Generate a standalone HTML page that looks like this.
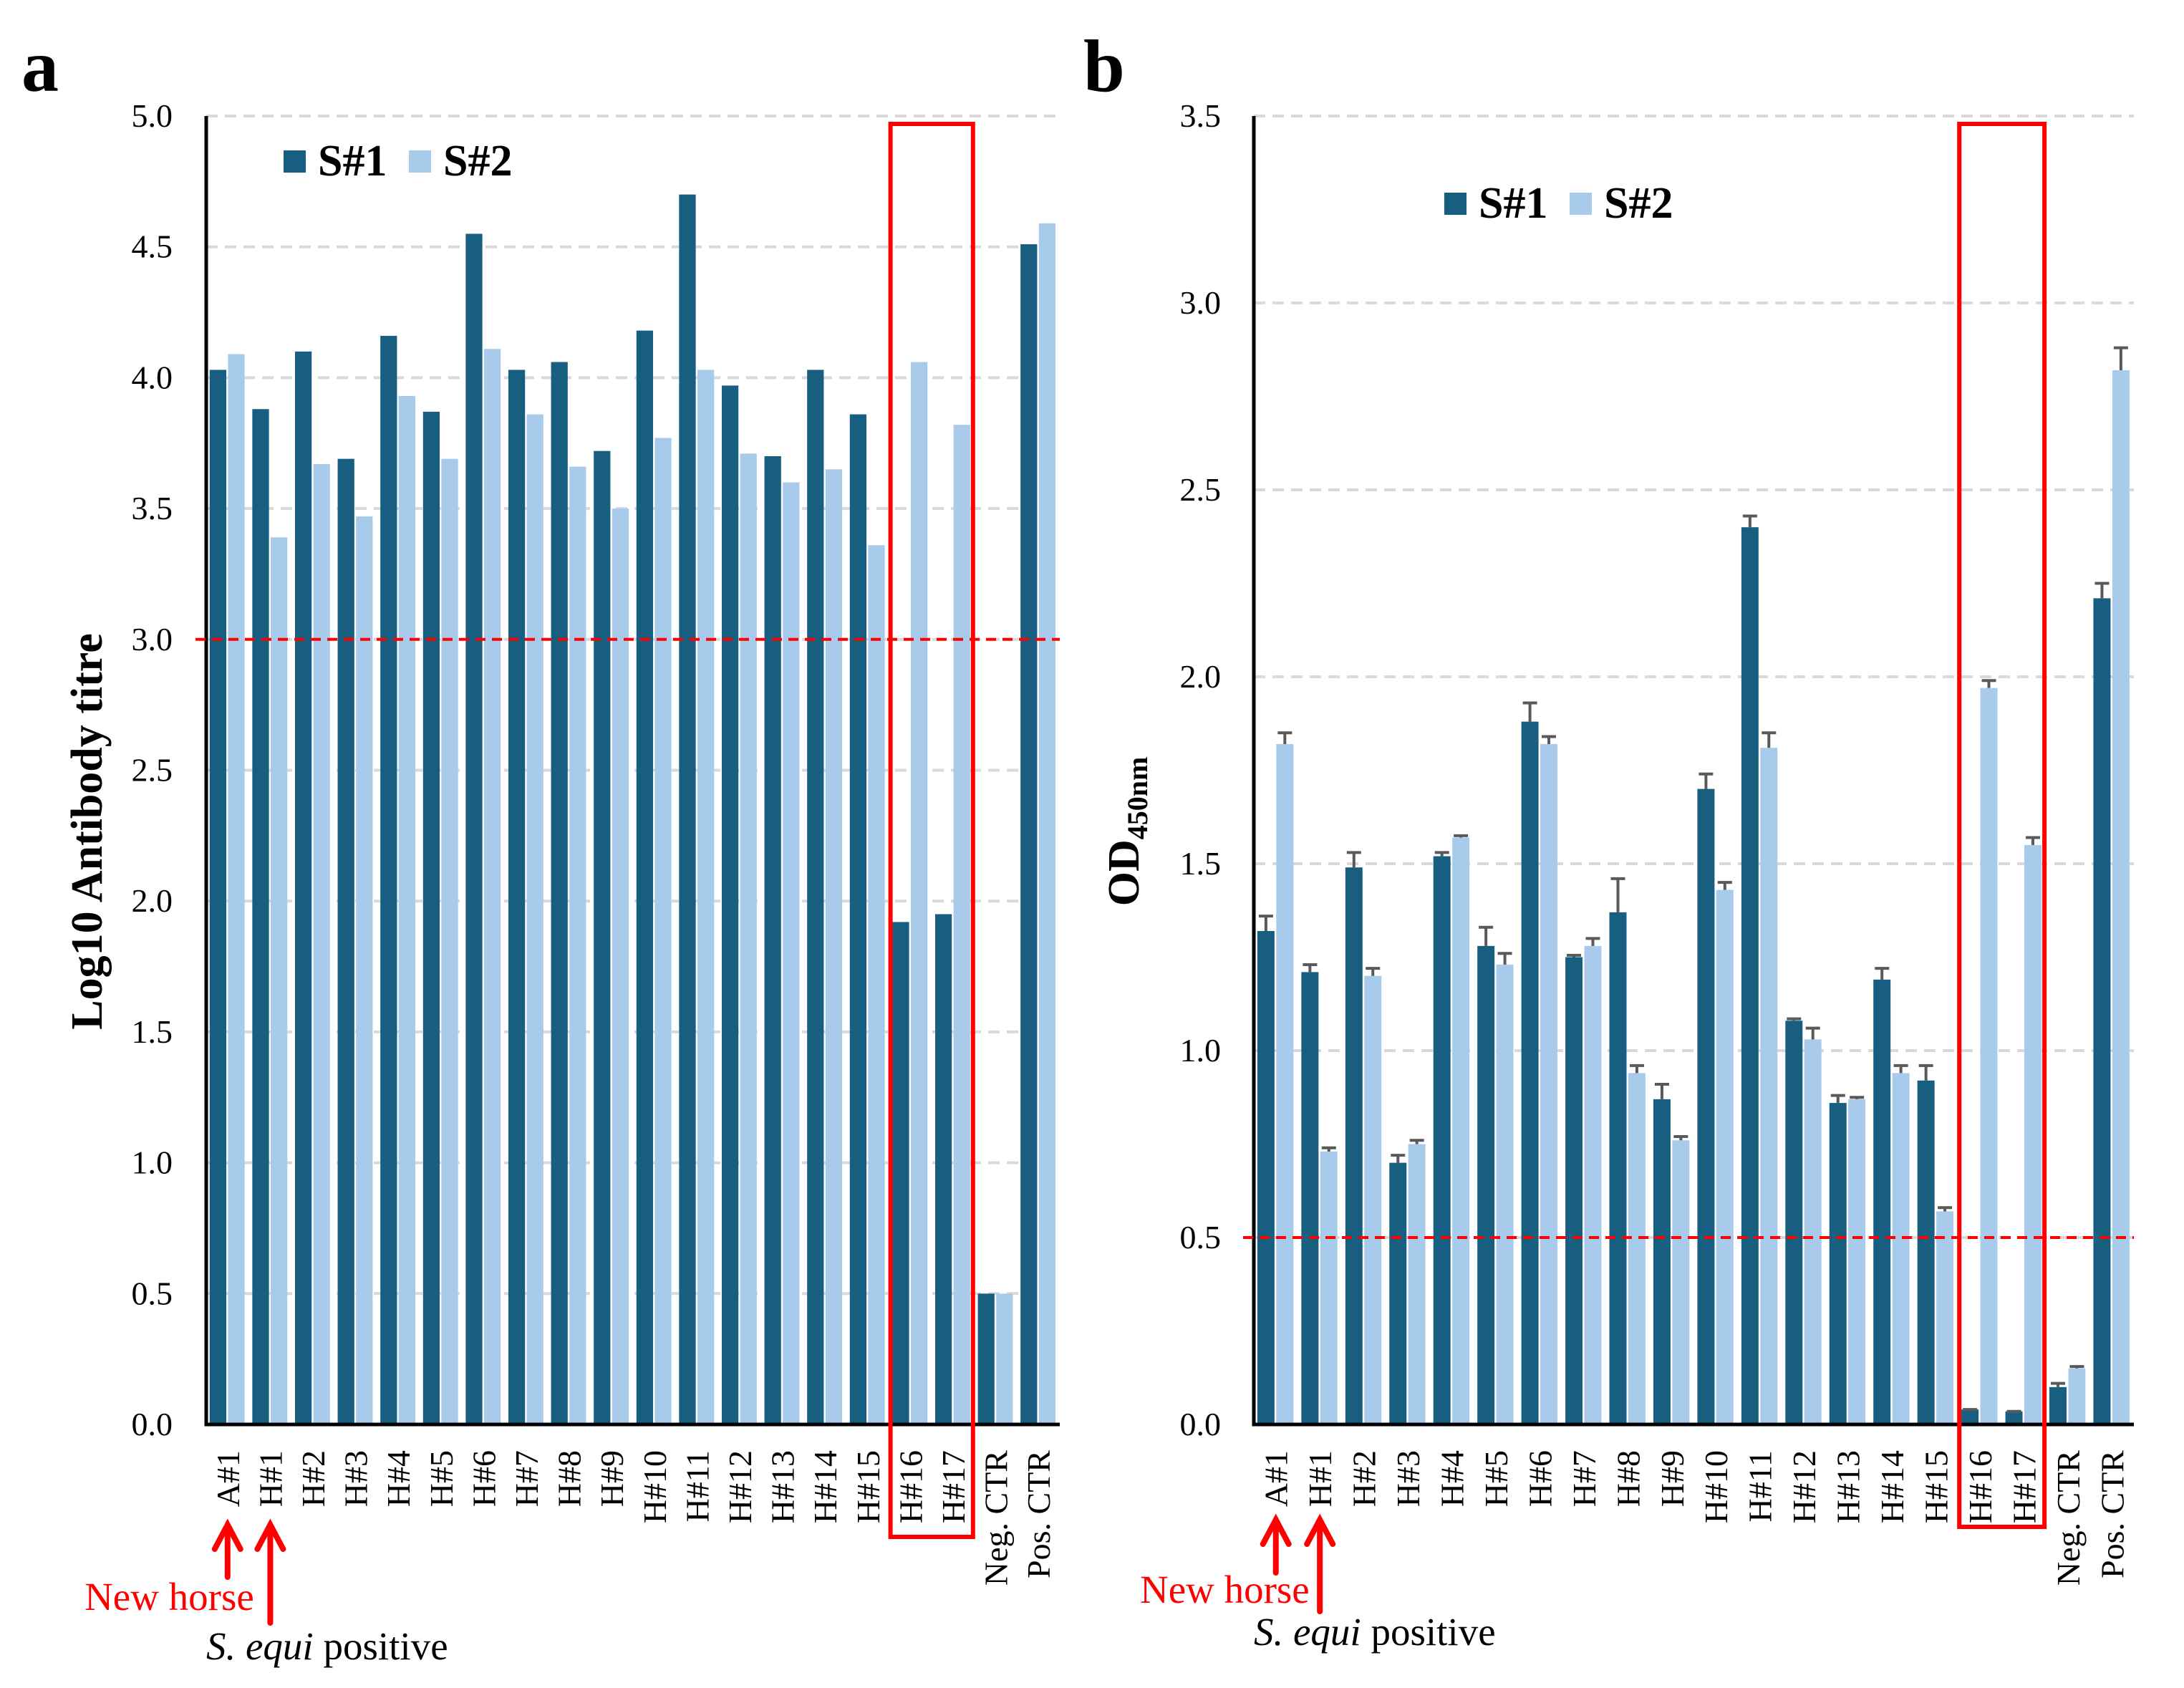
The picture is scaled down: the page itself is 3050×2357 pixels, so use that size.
<!DOCTYPE html>
<html><head><meta charset="utf-8"><style>
html,body{margin:0;padding:0;background:#fff;}
svg{display:block;font-family:"Liberation Serif",serif;}
</style></head><body>
<svg id="fig" width="3050" height="2357" viewBox="0 0 3050 2357" xmlns="http://www.w3.org/2000/svg">
<g id="pa"></g>
<g id="pb"></g>
</svg>
<script>
const categories = ["A#1","H#1","H#2","H#3","H#4","H#5","H#6","H#7","H#8","H#9","H#10","H#11","H#12","H#13","H#14","H#15","H#16","H#17","Neg. CTR","Pos. CTR"];
const titreS1 = [4.03,3.88,4.10,3.69,4.16,3.87,4.55,4.03,4.06,3.72,4.18,4.70,3.97,3.70,4.03,3.86,1.92,1.95,0.50,4.51];
const titreS2 = [4.09,3.39,3.67,3.47,3.93,3.69,4.11,3.86,3.66,3.50,3.77,4.03,3.71,3.60,3.65,3.36,4.06,3.82,0.50,4.59];
const odS1 = [1.32,1.21,1.49,0.70,1.52,1.28,1.88,1.25,1.37,0.87,1.70,2.40,1.08,0.86,1.19,0.92,0.04,0.035,0.10,2.21];
const odS1Err = [0.04,0.02,0.04,0.02,0.01,0.05,0.05,0.005,0.09,0.04,0.04,0.03,0.005,0.02,0.03,0.04,0,0,0.01,0.04];
const odS2 = [1.82,0.73,1.20,0.75,1.57,1.23,1.82,1.28,0.94,0.76,1.43,1.81,1.03,0.87,0.94,0.57,1.97,1.55,0.15,2.82];
const odS2Err = [0.03,0.01,0.02,0.01,0.005,0.03,0.02,0.02,0.02,0.01,0.02,0.04,0.03,0.005,0.02,0.01,0.02,0.02,0.005,0.06];
const ticksA = ["0.0","0.5","1.0","1.5","2.0","2.5","3.0","3.5","4.0","4.5","5.0"];
const ticksB = ["0.0","0.5","1.0","1.5","2.0","2.5","3.0","3.5"];
const cutoffA = 3.0, cutoffB = 0.5;

const NS="http://www.w3.org/2000/svg";
const DARK="#175e81", LIGHT="#a9cbeb";
function mk(parent,tag,attrs,text){const e=document.createElementNS(NS,tag);for(const k in attrs)e.setAttribute(k,attrs[k]);if(text!==undefined)e.textContent=text;parent.appendChild(e);return e;}

function panel(g,cfg){
  const x0=cfg.x0,x1=cfg.x1,y0=1989,yTop=162;
  const ymax=cfg.ymax;
  const Y=v=>y0-(v/ymax)*(y0-yTop);
  const gw=(x1-x0)/categories.length;
  const X=i=>x0+i*gw;
  cfg.ticks.forEach(t=>{
    const v=parseFloat(t),y=Y(v);
    if(v>0){const l=mk(g,'line',{x1:x0,x2:x1,y1:y,y2:y,stroke:'#d9d9d9','stroke-width':4,'stroke-dasharray':'16 10'});
      
      }
    const tx=mk(g,'text',{x:cfg.tickX,y:y+15,'font-size':46,'text-anchor':'end'},t);
    
    
  });
  categories.forEach((c,i)=>{
    const bw=gw*0.39;
    const xa=X(i)+gw*0.08, xb=X(i)+gw*0.51;
    const v1=cfg.s1[i],v2=cfg.s2[i];
    const r1=mk(g,'rect',{x:xa,y:Y(v1),width:bw,height:y0-Y(v1),fill:DARK});
    
    
    const r2=mk(g,'rect',{x:xb,y:Y(v2),width:bw,height:y0-Y(v2),fill:LIGHT});
    
    
    if(cfg.e1){
      [[xa,v1,cfg.e1[i]],[xb,v2,cfg.e2[i]]].forEach(([bx,v,e])=>{
        const cx=bx+bw/2,ty=Y(v+e);
        const eb=mk(g,'path',{d:`M${cx},${Y(v)} V${ty} M${cx-10},${ty} H${cx+10}`,stroke:'#595959','stroke-width':4,fill:'none'});
        
        
      });
    }
    const cx=X(i)+gw/2;
    const lb=mk(g,'text',{x:0,y:0,'font-size':46,'text-anchor':'end',transform:`translate(${cx+16},${cfg.labelTop}) rotate(-90)`},c);
    
    
  });
  const ax=mk(g,'path',{d:`M${x0},${yTop} V${y0} H${x1}`,stroke:'#000','stroke-width':5,fill:'none'});
  
  
  const cl=mk(g,'line',{x1:x0-15,x2:x1,y1:Y(cfg.cutoff),y2:Y(cfg.cutoff),stroke:'#ff0000','stroke-width':4,'stroke-dasharray':'14 9'});
  
  
  const bx0=X(16)+2,bx1=X(18)-2;
  const rb=mk(g,'rect',{x:bx0,y:173,width:bx1-bx0,height:cfg.boxBottom-173,fill:'none',stroke:'#ff0000','stroke-width':6});
  
  
  [[0,cfg.arrowBot0],[1,cfg.arrowBot1]].forEach(([i,b])=>{
    const cx=X(i)+gw/2,tip=cfg.arrowTip;
    const a=mk(g,'path',{d:`M${cx},${b} V${tip+8} M${cx-18},${tip+38} L${cx},${tip+4} L${cx+18},${tip+38}`,stroke:'#ff0000','stroke-width':8,fill:'none','stroke-linecap':'round','stroke-linejoin':'miter'});
    
    
  });
  const nh=mk(g,'text',{x:X(0)+gw/2+cfg.nhShift,y:cfg.newHorseY,'font-size':55,'text-anchor':'end',fill:'#ff0000'},'New horse');
  
  
  const se=mk(g,'text',{x:x0,y:cfg.sequiY,'font-size':55});
  
  
  mk(se,'tspan',{'font-style':'italic'},'S. equi');
  mk(se,'tspan',{},' positive');
  const L=cfg.legend;
  [[L.x,DARK,'S#1'],[L.x+175,LIGHT,'S#2']].forEach(([lx,col,t])=>{
    const sq=mk(g,'rect',{x:lx,y:L.y-35,width:31,height:31,fill:col});
    
    
    const lt=mk(g,'text',{x:lx+48,y:L.y,'font-size':62,'font-weight':'bold'},t);
    
    
  });
  const pl=mk(g,'text',{x:cfg.letterX,y:127,'font-size':104,'font-weight':'bold'},cfg.letter);
  
  
}

panel(document.getElementById('pa'),{x0:288,x1:1480,ymax:5,ticks:ticksA,tickX:241,s1:titreS1,s2:titreS2,cutoff:cutoffA,
  labelTop:2025,boxBottom:2146,arrowTip:2125,arrowBot0:2202,arrowBot1:2266,newHorseY:2248,sequiY:2317,nhShift:37,
  legend:{x:396,y:245},letter:'a',letterX:30});
panel(document.getElementById('pb'),{x0:1751,x1:2980,ymax:3.5,ticks:ticksB,tickX:1705,s1:odS1,s2:odS2,e1:odS1Err,e2:odS2Err,cutoff:cutoffB,
  labelTop:2025,boxBottom:2132,arrowTip:2118,arrowBot0:2196,arrowBot1:2250,newHorseY:2238,sequiY:2297,nhShift:47,
  legend:{x:2017,y:304},letter:'b',letterX:1513});

const svg=document.getElementById('fig');
const ta=mk(svg,'text',{x:0,y:0,'font-size':62,'font-weight':'bold','text-anchor':'middle',transform:'translate(142,1161) rotate(-90)'},'Log10 Antibody titre');


const tb=mk(svg,'text',{x:0,y:0,'font-size':62,'font-weight':'bold','text-anchor':'middle',transform:'translate(1590,1161) rotate(-90)'});


mk(tb,'tspan',{},'OD');
mk(tb,'tspan',{'font-size':40,dy:12},'450nm');
</script>
</body></html>
